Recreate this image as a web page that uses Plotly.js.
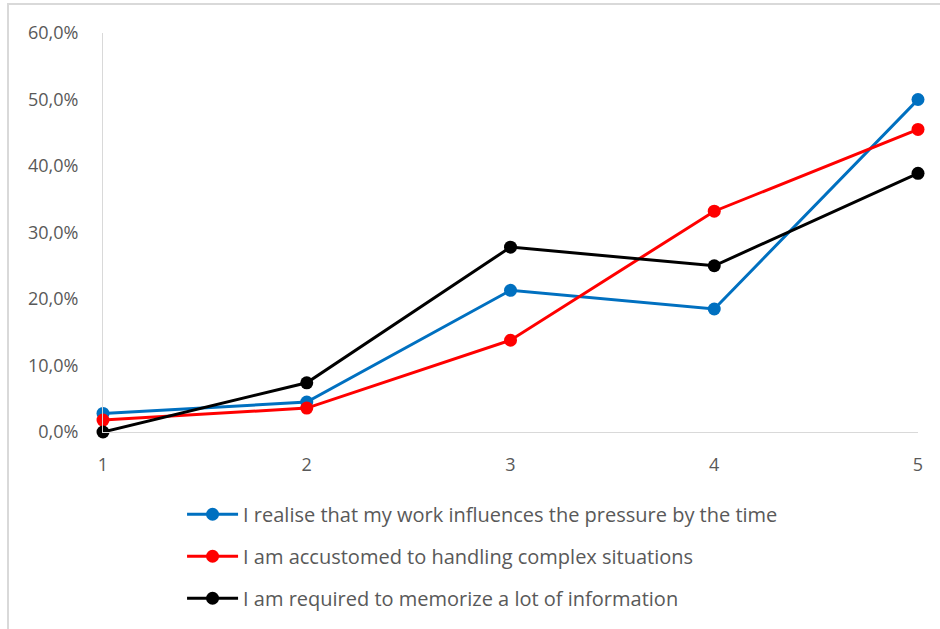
<!DOCTYPE html>
<html>
<head>
<meta charset="utf-8">
<script src="https://cdn.plot.ly/plotly-3.0.1.min.js"></script>
<style>
  html, body { margin: 0; padding: 0; background: #fff; }
  #wrap { position: relative; width: 940px; height: 629px; }
  #chart { width: 940px; height: 629px; }
  #frame { position: absolute; left: 7px; top: 3px; width: 940px; height: 640px;
           border-left: 2px solid #d9d9d9; border-top: 2px solid #d9d9d9; pointer-events: none; }
</style>
</head>
<body>
<div id="wrap">
  <div id="chart"></div>
  <div id="frame"></div>
</div>
<script>
const categories = [1, 2, 3, 4, 5];
const seriesNames = [
  "I realise that my work influences the pressure by the time",
  "I am accustomed to handling complex situations",
  "I am required to memorize a lot of information"
];
const realiseValues = [0.028, 0.045, 0.213, 0.185, 0.500];
const accustomedValues = [0.018, 0.036, 0.138, 0.332, 0.455];
const memorizeValues = [0.000, 0.074, 0.278, 0.250, 0.389];
const yTickValues = [0, 0.1, 0.2, 0.3, 0.4, 0.5, 0.6];

const colors = ["#0070C0", "#FF0000", "#000000"];
const allValues = [realiseValues, accustomedValues, memorizeValues];

const traces = allValues.map((vals, i) => ({
  x: categories,
  y: vals,
  type: "scatter",
  mode: "lines+markers",
  name: seriesNames[i],
  legendgroup: "g" + i,
  line: { color: colors[i], width: 3 },
  marker: { color: colors[i], size: 13 },
  cliponaxis: false
}));

const tickFont = { family: "'Open Sans', sans-serif", color: "#595959", size: 18 };

const layout = {
  width: 940, height: 629,
  margin: { l: 103, r: 22, t: 33, b: 197 },
  paper_bgcolor: "#ffffff",
  plot_bgcolor: "#ffffff",
  separators: ",.",
  font: tickFont,
  showlegend: true,
  xaxis: {
    range: [1, 5],
    tickvals: categories,
    ticktext: categories.map(String),
    showgrid: false,
    zeroline: false,
    showline: true,
    linecolor: "#d9d9d9",
    linewidth: 1,
    ticks: "",
    ticklabelstandoff: 16,
    tickfont: tickFont
  },
  yaxis: {
    range: [0, 0.6],
    tickvals: yTickValues,
    tickformat: ".1%",
    showgrid: false,
    zeroline: false,
    showline: true,
    linecolor: "#d9d9d9",
    linewidth: 1,
    ticks: "",
    ticklabelstandoff: 20,
    tickfont: tickFont
  },
  legend: {
    orientation: "v",
    xref: "paper",
    x: 0.097, xanchor: "left",
    yref: "container",
    y: 0.2134, yanchor: "top",
    traceorder: "grouped",
    tracegroupgap: 13,
    itemwidth: 51,
    font: { family: "'Open Sans', sans-serif", color: "#595959", size: 20 },
    bgcolor: "rgba(0,0,0,0)"
  }
};

Plotly.newPlot("chart", traces, layout, { displayModeBar: false, staticPlot: true });
</script>
</body>
</html>
